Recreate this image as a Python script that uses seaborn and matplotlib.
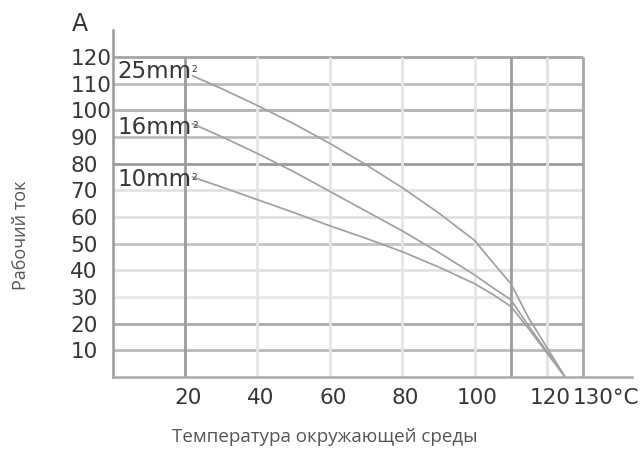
import matplotlib
matplotlib.use("Agg")
import matplotlib.pyplot as plt
import matplotlib.transforms as mtransforms
import seaborn as sns
import pandas as pd

# ---- data ----
temps = [22, 30, 40, 50, 60, 70, 80, 90, 100, 105, 110, 115, 120, 125]
current_25 = [113, 108.2, 101.8, 95, 87.6, 79.6, 71, 61.6, 51.2, 43, 35, 22, 11, 0]
current_16 = [95, 90.2, 83.8, 77, 69.6, 62.2, 54.8, 46.8, 38.3, 33.5, 29, 19, 9.5, 0]
current_10 = [75, 71.3, 66.5, 61.7, 56.7, 52, 47, 41.3, 35, 31, 26.5, 18, 9, 0]
series_names = ["25mm", "16mm", "10mm"]
label_y = [114.4, 93.4, 73.9]

y_ticks = [10, 20, 30, 40, 50, 60, 70, 80, 90, 100, 110, 120]
x_ticks = [20, 40, 60, 80, 100, 120, 130]
x_tick_labels = ["20", "40", "60", "80", "100", "120", "130°C"]
v_grid = [20, 40, 60, 80, 100, 110, 120, 130]

y_unit = "A"
y_title = "Рабочий ток"
x_title = "Температура окружающей среды"

# ---- styles ----
h_grid_colors = ["#bbbbbb", "#aaaaaa", "#e8e8e8", "#e2e2e2", "#c4c4c4", "#e2e2e2",
                 "#e2e2e2", "#9c9c9c", "#bdbdbd", "#b2b2b2", "#bdbdbd", "#a4a4a4"]
v_grid_colors = ["#9c9c9c", "#e6e6e6", "#e6e6e6", "#e6e6e6", "#e6e6e6",
                 "#9c9c9c", "#e2e2e2", "#a8a8a8"]

sns.set_style("white")
plt.rcParams["font.family"] = ["DejaVu Sans"]

df = pd.concat([
    pd.DataFrame({"temp": temps, "current": vals, "size": name})
    for name, vals in zip(series_names, [current_25, current_16, current_10])
])

fig = plt.figure(figsize=(6.42, 4.74), dpi=100)
ax = fig.add_axes([0.1755, 0.2046, 0.809, 0.7314])

ax.hlines(y_ticks, 0, 130, colors=h_grid_colors, linewidth=2.0, zorder=1)
ax.vlines(v_grid, 0, 120, colors=v_grid_colors, linewidth=2.0, zorder=1)

sns.lineplot(data=df, x="temp", y="current", hue="size",
             palette=["#a0a0a0"] * 3, linewidth=1.25, legend=False,
             ax=ax, zorder=3, sort=False)

ax.set_xlim(0, 143.5)
ax.set_ylim(0, 130)

for s in ["top", "right"]:
    ax.spines[s].set_visible(False)
ax.spines["left"].set_color("#999999")
ax.spines["left"].set_linewidth(1.8)
ax.spines["bottom"].set_color("#aaaaaa")
ax.spines["bottom"].set_linewidth(1.8)

ax.set_yticks(y_ticks)
ax.set_yticklabels([str(v) for v in y_ticks])
ax.tick_params(axis="y", length=0, pad=30.5, labelsize=15.5, labelcolor="#363636")
for lab in ax.get_yticklabels():
    lab.set_horizontalalignment("left")

ax.set_xticks(x_ticks)
ax.set_xticklabels(x_tick_labels)
ax.tick_params(axis="x", length=0, pad=8, labelsize=15.5, labelcolor="#363636")
xl = ax.get_xticklabels()
for lab in xl:
    lab.set_transform(lab.get_transform() + mtransforms.ScaledTranslation(3 / 100, 0, fig.dpi_scale_trans))
xl[-1].set_horizontalalignment("left")
xl[-1].set_transform(xl[-1].get_transform() + mtransforms.ScaledTranslation(-14 / 100, 0, fig.dpi_scale_trans))

ax.set_xlabel("")
ax.set_ylabel("")

# series labels
for name, yy in zip(series_names, label_y):
    t = ax.text(1.2, yy, name, fontsize=16.5, color="#363636", ha="left", va="center", zorder=4)
    ax.annotate("2", xy=(1, 1), xycoords=t, xytext=(0.5, -3), textcoords="offset points",
                fontsize=6.5, color="#363636", ha="left", va="top", zorder=4)

# unit
fig.text(80 / 642, 1 - 24 / 474, y_unit, fontsize=17, color="#363636", ha="center", va="center")

# axis titles
fig.text(21 / 642, 1 - 235 / 474, y_title, rotation=90, fontsize=13, color="#555555",
         ha="center", va="center", family=["Open Sans", "DejaVu Sans"])
fig.text(325 / 642, 1 - 437 / 474, x_title, fontsize=13.5, color="#555555",
         ha="center", va="center", family=["Open Sans", "DejaVu Sans"])

fig.savefig("out.png", dpi=100)
